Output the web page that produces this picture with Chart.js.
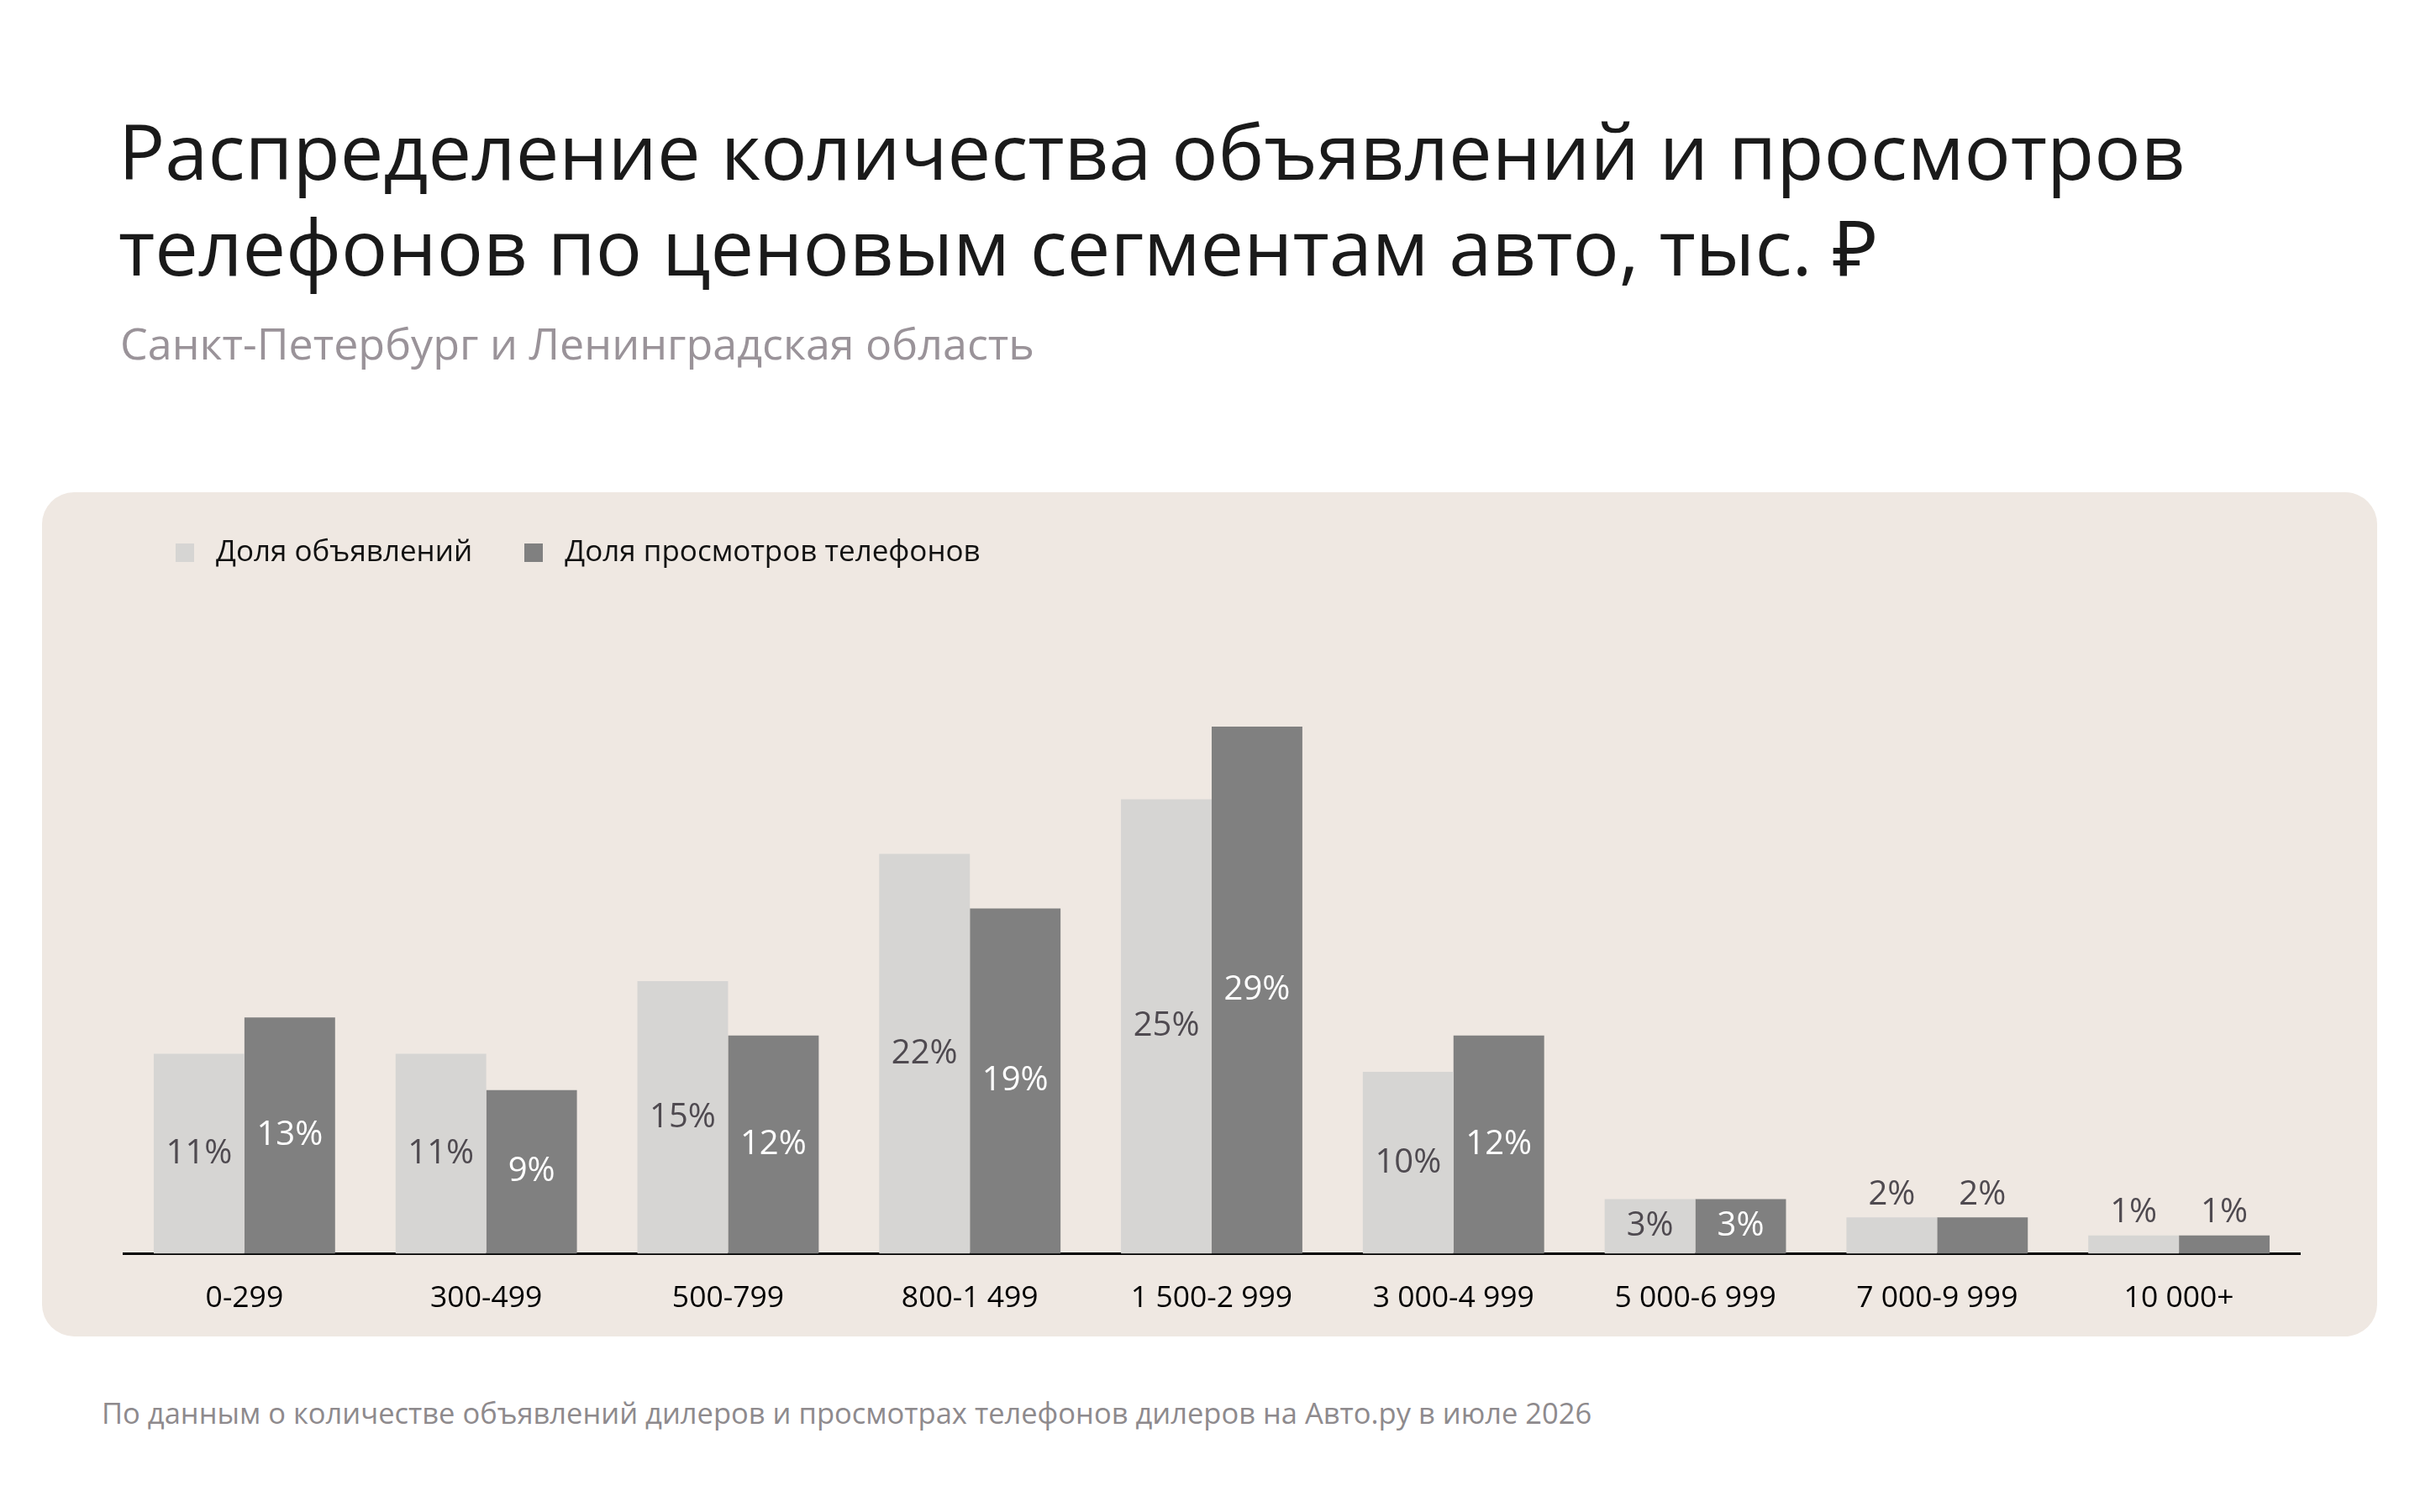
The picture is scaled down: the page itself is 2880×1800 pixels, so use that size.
<!DOCTYPE html>
<html lang="ru">
<head>
<meta charset="utf-8">
<title>Распределение по ценовым сегментам</title>
<script src="https://cdn.jsdelivr.net/npm/chart.js@4.4.1/dist/chart.umd.min.js"></script>
<style>
  html, body { margin: 0; padding: 0; background: #ffffff; }
  body { width: 2880px; height: 1800px; position: relative; overflow: hidden; font-family: "Open Sans", "Noto Sans", sans-serif; }
  .title { position: absolute; left: 141px; top: 122px; font-size: 92px; line-height: 114px; color: #1a1a1a; margin: 0; font-weight: 400; }
  .subtitle { position: absolute; left: 143px; top: 375px; font-size: 52px; line-height: 66px; color: #9a9399; }
  .panel { position: absolute; left: 50px; top: 586px; width: 2779px; height: 1005px; background: #efe8e2; border-radius: 38px; }
  .wrap { position: absolute; left: 50px; top: 587px; width: 2779px; height: 1037px; }
  .note { position: absolute; left: 121px; top: 1660px; font-size: 34.5px; line-height: 44px; color: #8e8a8d; }
</style>
</head>
<body>
<h1 class="title">Распределение количества объявлений и просмотров<br>телефонов по ценовым сегментам авто, тыс. ₽</h1>
<div class="subtitle">Санкт-Петербург и Ленинградская область</div>
<div class="panel"></div>
<div class="wrap"><canvas id="chart"></canvas></div>
<div class="note">По данным о количестве объявлений дилеров и просмотрах телефонов дилеров на Авто.ру в июле 2026</div>
<script>
const segments = ['0-299', '300-499', '500-799', '800-1 499', '1 500-2 999', '3 000-4 999', '5 000-6 999', '7 000-9 999', '10 000+'];
const listingsShare = [11, 11, 15, 22, 25, 10, 3, 2, 1];
const phoneViewsShare = [13, 9, 12, 19, 29, 12, 3, 2, 1];

const FONT = '"Open Sans", "Noto Sans", sans-serif';

// квадратик для легенды, чтобы был отступ до текста как в макете
function legendSquare(color) {
  const c = document.createElement('canvas');
  c.width = 22;
  c.height = 22;
  const g = c.getContext('2d');
  g.fillStyle = color;
  g.fillRect(0, 0, 22, 22);
  return c;
}

// подписи значений: внутри столбца по центру, для маленьких - над ним
const barLabels = {
  id: 'barLabels',
  afterDatasetsDraw(chart) {
    const ctx = chart.ctx;
    ctx.save();
    ctx.font = '40px ' + FONT;
    ctx.textAlign = 'center';
    ctx.textBaseline = 'middle';
    chart.data.datasets.forEach((ds, i) => {
      chart.getDatasetMeta(i).data.forEach((bar, j) => {
        const v = ds.data[j];
        let y = (bar.y + bar.base) / 2;
        let color = ds.labelColor;
        if (v < 3) {
          y = bar.y - 27;
          color = '#4f4a50';
        }
        ctx.fillStyle = color;
        ctx.fillText(v + '%', bar.x, y);
      });
    });
    ctx.restore();
  }
};

new Chart(document.getElementById('chart'), {
  type: 'bar',
  data: {
    labels: segments,
    datasets: [{
      label: 'Доля объявлений',
      data: listingsShare,
      backgroundColor: '#d6d5d3',
      pointStyle: legendSquare('#d6d5d3'),
      labelColor: '#4f4a50'
    }, {
      label: 'Доля просмотров телефонов',
      data: phoneViewsShare,
      backgroundColor: '#808080',
      pointStyle: legendSquare('#808080'),
      labelColor: '#ffffff'
    }]
  },
  options: {
    responsive: true,
    maintainAspectRatio: false,
    animation: false,
    devicePixelRatio: 1,
    layout: { padding: { left: 97, right: 92, top: 0, bottom: 25 } },
    datasets: { bar: { categoryPercentage: 0.75, barPercentage: 1.0, borderWidth: 0 } },
    plugins: {
      legend: {
        position: 'top',
        align: 'start',
        labels: {
          usePointStyle: true,
          pointStyleWidth: 39,
          boxHeight: 22,
          padding: 53.5,
          color: '#111111',
          font: { family: FONT, size: 35 }
        }
      },
      tooltip: { enabled: false }
    },
    scales: {
      x: {
        grid: { display: false, drawTicks: false },
        border: { display: true, color: '#000000', width: 3 },
        ticks: {
          color: '#000000',
          padding: 32,
          font: { family: FONT, size: 35.5 }
        }
      },
      y: {
        display: false,
        min: 0,
        max: 37.3
      }
    }
  },
  plugins: [barLabels]
});
</script>
</body>
</html>
